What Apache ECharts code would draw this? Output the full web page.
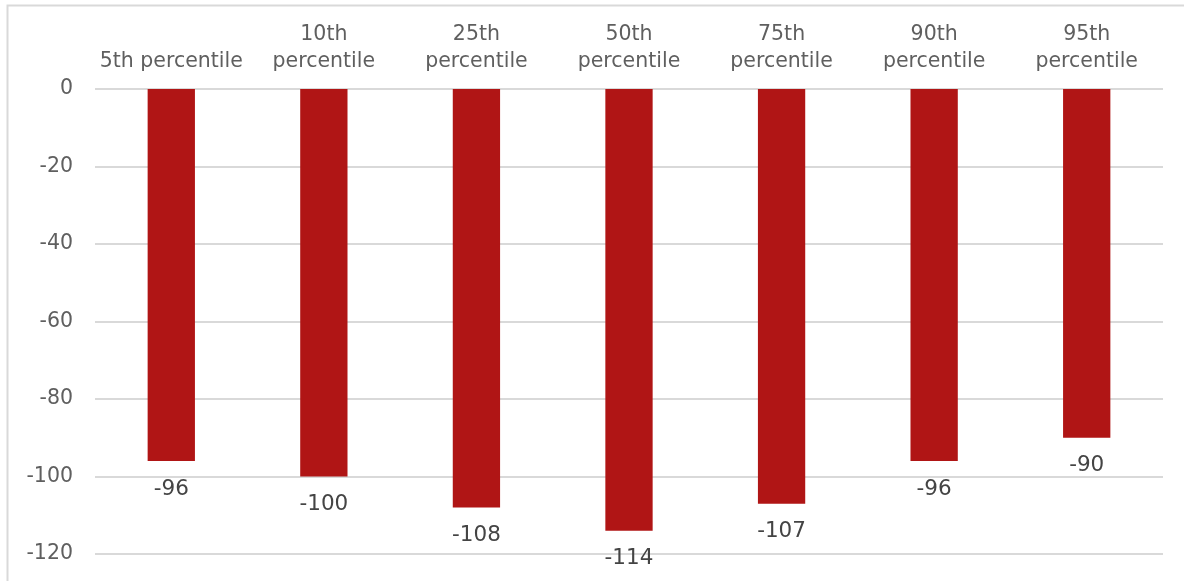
<!DOCTYPE html>
<html>
<head>
<meta charset="utf-8">
<script src="https://cdn.jsdelivr.net/npm/echarts@6/dist/echarts.min.js"></script>
<style>
  html, body { margin: 0; padding: 0; background: #fff; }
  #chart { width: 1184px; height: 581px; }
</style>
</head>
<body>
<div id="chart"></div>
<script>
// Percentile categories and their values
const categories = ['5th percentile', '10th\npercentile', '25th\npercentile', '50th\npercentile', '75th\npercentile', '90th\npercentile', '95th\npercentile'];
const values = [-96, -100, -108, -114, -107, -96, -90];
const yTicks = { min: -120, max: 0, interval: 20 };

const FONT = 'DejaVu Sans';
const chart = echarts.init(document.getElementById('chart'));
chart.setOption({
  animation: false,
  backgroundColor: '#ffffff',
  graphic: [{
    type: 'rect',
    shape: { x: 7.5, y: 5.5, width: 1300, height: 700 },
    style: { fill: 'none', stroke: '#d9d9d9', lineWidth: 2 },
    silent: true
  }],
  grid: { left: 95, right: 21, top: 89, bottom: 27, containLabel: false },
  xAxis: {
    type: 'category',
    position: 'top',
    data: categories,
    axisLine: { show: false },
    axisTick: { show: false },
    axisLabel: {
      color: '#5f5f5f',
      fontFamily: FONT,
      fontSize: 20.5,
      lineHeight: 27,
      margin: 14,
      interval: 0
    }
  },
  yAxis: {
    type: 'value',
    min: yTicks.min,
    max: yTicks.max,
    interval: yTicks.interval,
    axisLine: { show: false },
    axisTick: { show: false },
    splitLine: { lineStyle: { color: '#d9d9d9', width: 2 } },
    axisLabel: {
      color: '#5f5f5f',
      fontFamily: FONT,
      fontSize: 20.5,
      margin: 22,
      padding: [3, 0, 0, 0]
    }
  },
  series: [{
    type: 'bar',
    data: values,
    barWidth: '31%',
    itemStyle: { color: '#b01515' },
    label: {
      show: true,
      position: 'bottom',
      distance: 17,
      color: '#444444',
      fontFamily: FONT,
      fontSize: 21.5
    }
  }]
});
</script>
</body>
</html>
